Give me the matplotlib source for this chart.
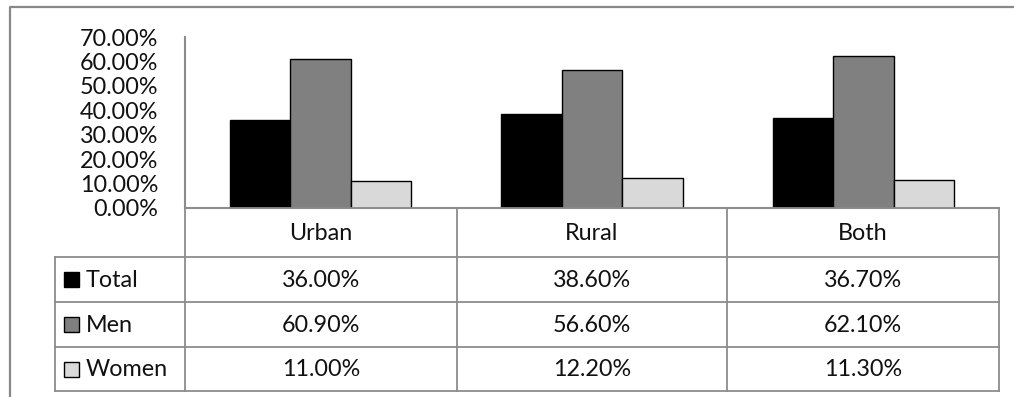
import matplotlib
matplotlib.use('Agg')
import matplotlib.pyplot as plt
from matplotlib.patches import Rectangle

# ---- data ----
categories = ['Urban', 'Rural', 'Both']
series_names = ['Total', 'Men', 'Women']
total = [0.360, 0.386, 0.367]
men = [0.609, 0.566, 0.621]
women = [0.110, 0.122, 0.113]
ytick_values = [0.0, 0.1, 0.2, 0.3, 0.4, 0.5, 0.6, 0.7]

series_values = [total, men, women]
colors = ['#000000', '#808080', '#d9d9d9']

plt.rcParams['font.family'] = ['Lato', 'DejaVu Sans']
FS = 16.8
GRID = '#8c8c8c'

W, H = 1014, 397
fig = plt.figure(figsize=(W / 100, H / 100), dpi=100)

# plot area in pixel coordinates
PL, PR, PT, PB = 185, 999, 37, 208
ax = fig.add_axes([PL / W, 1 - PB / H, (PR - PL) / W, (PB - PT) / H])
ax.set_xlim(-0.5, len(categories) - 0.5)
ax.set_ylim(0, 0.7)
bw = 0.2226
for i, (vals, c) in enumerate(zip(series_values, colors)):
    xs = [k + (i - 1) * bw for k in range(len(categories))]
    ax.bar(xs, vals, width=bw, color=c, edgecolor='black', linewidth=1.0, zorder=3)

for s in ['top', 'right']:
    ax.spines[s].set_visible(False)
for s in ['left', 'bottom']:
    ax.spines[s].set_color(GRID)
    ax.spines[s].set_linewidth(1.5)
ax.set_xticks([])
ax.set_yticks(ytick_values)
ax.set_yticklabels([f'{v * 100:.2f}%' for v in ytick_values], fontsize=FS, color='#111111')
ax.tick_params(axis='y', length=0, pad=19)

# overlay for table in pixel coordinates
ov = fig.add_axes([0, 0, 1, 1])
ov.set_xlim(0, W)
ov.set_ylim(H, 0)
ov.axis('off')

# outer border (top and left only visible)
ov.plot([9.5, 9.5, W + 5], [H + 5, 7, 7], color='#888888', lw=1.6, solid_capstyle='butt')

col_edges = [PL, 457, 727, PR]
row_edges = [PB, 257, 302, 347, 391]
LEFT = 55
lw = 1.3
# horizontal lines
ov.plot([PL, PR], [row_edges[0]] * 2, color=GRID, lw=lw)
for y in row_edges[1:]:
    ov.plot([LEFT, PR], [y, y], color=GRID, lw=lw)
# vertical lines
ov.plot([LEFT, LEFT], [row_edges[1], row_edges[-1]], color=GRID, lw=lw)
for x in col_edges:
    ov.plot([x, x], [row_edges[0], row_edges[-1]], color=GRID, lw=lw)

# header
for j, cat in enumerate(categories):
    cx = (col_edges[j] + col_edges[j + 1]) / 2
    ov.text(cx, (row_edges[0] + row_edges[1]) / 2 + 1, cat, ha='center', va='center',
            fontsize=FS, color='#111111')

# rows
for i, (name, vals, c) in enumerate(zip(series_names, series_values, colors)):
    cy = (row_edges[i + 1] + row_edges[i + 2]) / 2
    ov.add_patch(Rectangle((64, cy - 7.5), 15, 15, facecolor=c, edgecolor='black', lw=1.0))
    ov.text(86, cy + 1, name, ha='left', va='center', fontsize=FS, color='#111111')
    for j, v in enumerate(vals):
        cx = (col_edges[j] + col_edges[j + 1]) / 2
        ov.text(cx, cy + 1, f'{v * 100:.2f}%', ha='center', va='center', fontsize=FS,
                color='#111111')

fig.savefig('out.png', dpi=100)
